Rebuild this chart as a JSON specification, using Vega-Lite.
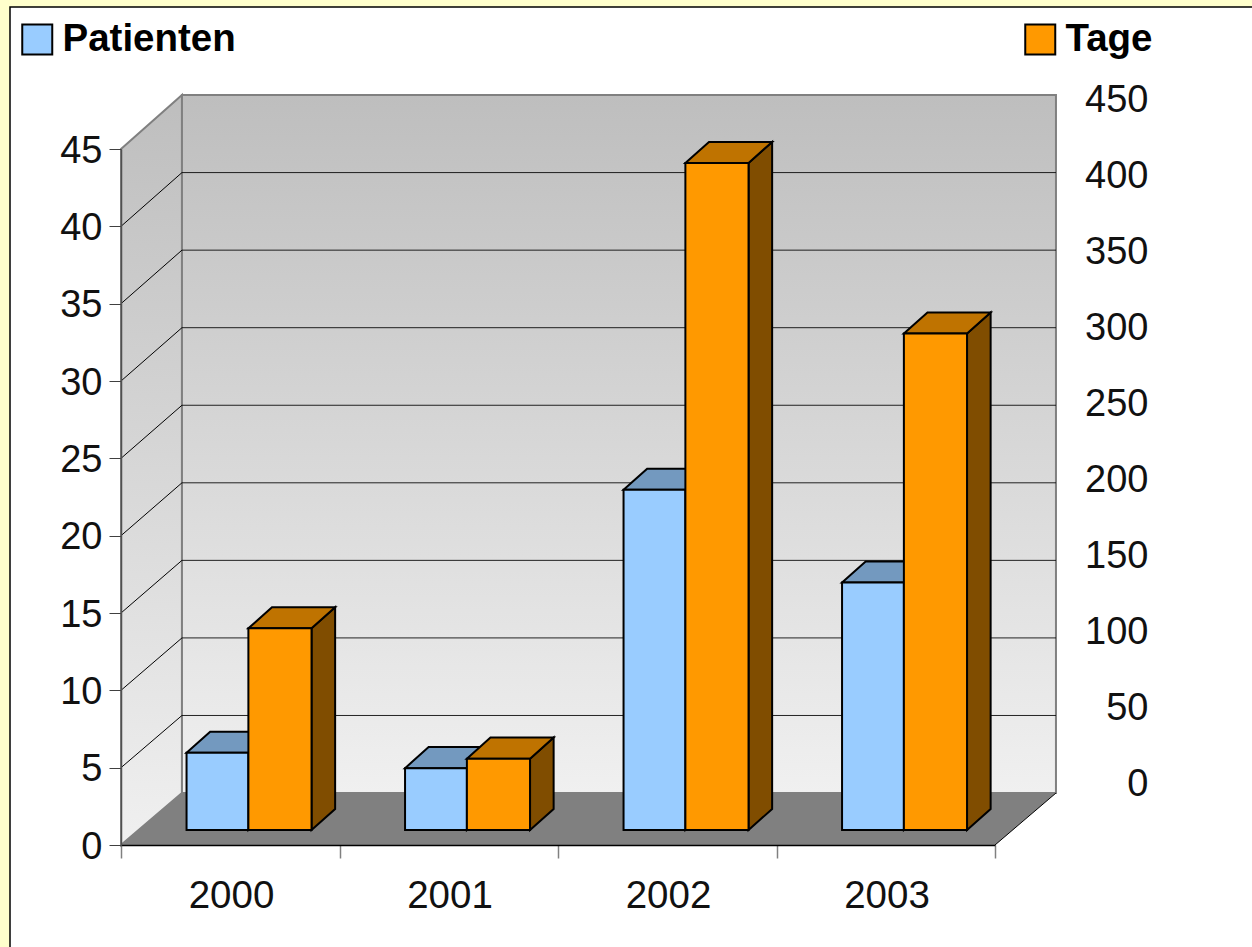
{
  "$schema": "https://vega.github.io/schema/vega-lite/v6.json",
  "description": "Patienten und Tage je Jahr, als Säulen mit räumlicher Tiefe",
  "autosize": {"type": "none"},
  "width": 874,
  "height": 696,
  "padding": {"left": 121, "top": 149, "right": 257, "bottom": 102},
  "background": "#ffffcc",
  "config": {"font": "Liberation Sans", "view": {"stroke": null}},
  "datasets": {
    "balken": [
      {"jahr": 2000, "serie": "Patienten", "wert": 5},
      {"jahr": 2000, "serie": "Tage", "wert": 130},
      {"jahr": 2001, "serie": "Patienten", "wert": 4},
      {"jahr": 2001, "serie": "Tage", "wert": 46},
      {"jahr": 2002, "serie": "Patienten", "wert": 22},
      {"jahr": 2002, "serie": "Tage", "wert": 430},
      {"jahr": 2003, "serie": "Patienten", "wert": 16},
      {"jahr": 2003, "serie": "Tage", "wert": 320}
    ],
    "raster": [
      {"v": 0}, {"v": 5}, {"v": 10}, {"v": 15}, {"v": 20},
      {"v": 25}, {"v": 30}, {"v": 35}, {"v": 40}, {"v": 45}
    ],
    "tiefe": [{"t": 0}, {"t": 1}],
    "eins": [{"n": 1}]
  },
  "resolve": {"scale": {"y": "independent"}, "axis": {"y": "independent"}},
  "layer": [
    {
      "layer": [
        {
          "description": "weisse Zeichenfläche mit schwarzem Rand",
          "data": {"name": "eins"},
          "mark": {"type": "rect", "fill": "#ffffff", "stroke": "#000000", "strokeWidth": 1.5},
          "encoding": {
            "x": {
              "datum": -0.508,
              "type": "quantitative",
              "scale": {"domain": [0, 4], "nice": false, "zero": false},
              "axis": {
                "values": [0, 1, 2, 3, 4],
                "title": null,
                "grid": false,
                "zindex": 1,
                "labelExpr": "datum.value < 4 ? 2000 + datum.value : ''",
                "labelOffset": 110,
                "labelFontSize": 38.5,
                "labelColor": "#111111",
                "labelPadding": 19,
                "labelFlush": false,
                "labelOverlap": false,
                "labelBound": false,
                "tickSize": 13,
                "tickColor": "#808080",
                "tickWidth": 1.5,
                "domainColor": "#000000",
                "domainWidth": 1.5
              }
            },
            "x2": {"datum": 5.5},
            "y": {
              "datum": 54.18,
              "type": "quantitative",
              "scale": {"domain": [0, 45], "nice": false, "zero": false},
              "axis": {
                "values": [0, 5, 10, 15, 20, 25, 30, 35, 40, 45],
                "title": null,
                "grid": false,
                "zindex": 1,
                "labelFontSize": 38,
                "labelColor": "#111111",
                "labelPadding": 7,
                "labelOffset": 2,
                "labelFlush": false,
                "labelOverlap": false,
                "labelBound": false,
                "tickSize": 12,
                "tickColor": "#404040",
                "tickWidth": 1,
                "domainColor": "#505050",
                "domainWidth": 1.5
              }
            },
            "y2": {"datum": -10}
          }
        },
        {
          "description": "linke Seitenwand",
          "data": {"name": "tiefe"},
          "transform": [
            {"calculate": "datum.t * 0.279", "as": "x"},
            {"calculate": "datum.t * 3.36", "as": "yu"},
            {"calculate": "45 + datum.t * 3.49", "as": "yo"}
          ],
          "mark": {
            "type": "area",
            "orient": "vertical",
            "stroke": "#808080",
            "strokeWidth": 2,
            "fill": {
              "gradient": "linear", "x1": 0, "y1": 0, "x2": 0, "y2": 1,
              "stops": [{"offset": 0, "color": "#bebebe"}, {"offset": 1, "color": "#f0f0f0"}]
            }
          },
          "encoding": {
            "x": {"field": "x", "type": "quantitative"},
            "y": {"field": "yo", "type": "quantitative"},
            "y2": {"field": "yu"}
          }
        },
        {
          "description": "Rückwand",
          "data": {"name": "eins"},
          "mark": {
            "type": "rect",
            "stroke": "#808080",
            "strokeWidth": 2,
            "fill": {
              "gradient": "linear", "x1": 0, "y1": 0, "x2": 0, "y2": 1,
              "stops": [{"offset": 0, "color": "#bebebe"}, {"offset": 1, "color": "#f0f0f0"}]
            }
          },
          "encoding": {
            "x": {"datum": 0.279, "type": "quantitative"},
            "x2": {"datum": 4.279},
            "y": {"datum": 48.49, "type": "quantitative"},
            "y2": {"datum": 3.36}
          }
        },
        {
          "description": "Gitterlinien auf der Rückwand",
          "data": {"name": "raster"},
          "transform": [
            {"filter": "datum.v > 0 && datum.v < 45"},
            {"calculate": "datum.v * 1.00287 + 3.36", "as": "yh"}
          ],
          "mark": {"type": "rule", "stroke": "#000000", "strokeWidth": 1, "strokeOpacity": 0.85},
          "encoding": {
            "x": {"datum": 0.279, "type": "quantitative"},
            "x2": {"datum": 4.279},
            "y": {"field": "yh", "type": "quantitative"}
          }
        },
        {
          "description": "Gitterlinien auf der Seitenwand",
          "data": {"name": "raster"},
          "transform": [
            {"filter": "datum.v > 0 && datum.v < 45"},
            {"calculate": "datum.v * 1.00287 + 3.36", "as": "yh"}
          ],
          "mark": {"type": "rule", "stroke": "#000000", "strokeWidth": 1},
          "encoding": {
            "x": {"datum": 0, "type": "quantitative"},
            "x2": {"datum": 0.279},
            "y": {"field": "v", "type": "quantitative"},
            "y2": {"field": "yh"}
          }
        },
        {
          "description": "Boden",
          "data": {"name": "tiefe"},
          "transform": [
            {"calculate": "datum.t * 0.279", "as": "xl"},
            {"calculate": "4 + datum.t * 0.279", "as": "xr"},
            {"calculate": "datum.t * 3.36", "as": "yb"}
          ],
          "mark": {"type": "area", "orient": "horizontal", "fill": "#808080"},
          "encoding": {
            "y": {"field": "yb", "type": "quantitative"},
            "x": {"field": "xl", "type": "quantitative"},
            "x2": {"field": "xr"}
          }
        },
        {
          "description": "vordere rechte Bodenkante",
          "data": {"name": "eins"},
          "mark": {"type": "rule", "stroke": "#000000", "strokeWidth": 1},
          "encoding": {
            "x": {"datum": 4, "type": "quantitative"},
            "x2": {"datum": 4.279},
            "y": {"datum": 0, "type": "quantitative"},
            "y2": {"datum": 3.36}
          }
        },
        {
          "description": "die Säulen: Seitenflächen, Deckel, Vorderseiten",
          "data": {"name": "balken"},
          "transform": [
            {"calculate": "datum.jahr - 2000 + (datum.serie == 'Tage' ? 0.583 : 0.3)", "as": "links"},
            {"calculate": "datum.jahr - 2000 + (datum.serie == 'Tage' ? 0.872 : 0.583)", "as": "rechts"},
            {"calculate": "0.97", "as": "fuss"},
            {"calculate": "0.97 + (datum.serie == 'Tage' ? datum.wert / 9.97 : datum.wert)", "as": "kopf"}
          ],
          "layer": [
            {
              "description": "Seitenflächen",
              "transform": [
                {"calculate": "[0, 1]", "as": "t"},
                {"flatten": ["t"]},
                {"calculate": "datum.rechts + datum.t * 0.108", "as": "sx"},
                {"calculate": "datum.kopf + datum.t * 1.36", "as": "so"},
                {"calculate": "datum.fuss + datum.t * 1.36", "as": "su"}
              ],
              "mark": {"type": "area", "orient": "vertical", "stroke": "#000000", "strokeWidth": 2},
              "encoding": {
                "x": {"field": "sx", "type": "quantitative"},
                "y": {"field": "so", "type": "quantitative"},
                "y2": {"field": "su"},
                "detail": [{"field": "jahr"}, {"field": "serie"}],
                "fill": {
                  "condition": {"test": "datum.serie == 'Tage'", "value": "#804d00"},
                  "value": "#4d6680"
                }
              }
            },
            {
              "description": "Deckel",
              "transform": [
                {"calculate": "[0, 1]", "as": "t"},
                {"flatten": ["t"]},
                {"calculate": "datum.links + datum.t * 0.108", "as": "dl"},
                {"calculate": "datum.rechts + datum.t * 0.108", "as": "dr"},
                {"calculate": "datum.kopf + datum.t * 1.36", "as": "dy"}
              ],
              "mark": {"type": "area", "orient": "horizontal", "stroke": "#000000", "strokeWidth": 2},
              "encoding": {
                "y": {"field": "dy", "type": "quantitative"},
                "x": {"field": "dl", "type": "quantitative"},
                "x2": {"field": "dr"},
                "detail": [{"field": "jahr"}, {"field": "serie"}],
                "fill": {
                  "condition": {"test": "datum.serie == 'Tage'", "value": "#bf7300"},
                  "value": "#7399bf"
                }
              }
            },
            {
              "description": "Vorderseiten",
              "mark": {"type": "rect", "stroke": "#000000", "strokeWidth": 2},
              "encoding": {
                "x": {"field": "links", "type": "quantitative"},
                "x2": {"field": "rechts"},
                "y": {"field": "kopf", "type": "quantitative"},
                "y2": {"field": "fuss"},
                "color": {
                  "field": "serie",
                  "type": "nominal",
                  "scale": {"domain": ["Patienten", "Tage"], "range": ["#99ccff", "#ff9900"]},
                  "legend": {
                    "title": null,
                    "orient": "none",
                    "legendX": -103,
                    "legendY": -129,
                    "columns": 2,
                    "columnPadding": 785,
                    "symbolType": "square",
                    "symbolSize": 900,
                    "symbolStrokeColor": "#000000",
                    "symbolStrokeWidth": 2,
                    "labelFontSize": 38.5,
                    "labelFontWeight": "bold",
                    "labelColor": "#000000",
                    "labelOffset": 6,
                    "labelLimit": 400,
                    "padding": 0
                  }
                }
              }
            }
          ]
        }
      ]
    },
    {
      "description": "Skala der Tage rechts neben der Rückwand",
      "data": {"name": "eins"},
      "mark": {"type": "rule", "opacity": 0},
      "encoding": {
        "y": {
          "datum": 0,
          "type": "quantitative",
          "scale": {"domain": [0, 450], "range": [635, -49], "nice": false, "zero": false},
          "axis": {
            "orient": "right",
            "values": [0, 50, 100, 150, 200, 250, 300, 350, 400, 450],
            "title": null,
            "grid": false,
            "domain": false,
            "ticks": false,
            "zindex": 1,
            "labelExpr": "datum.value == 0 ? '0\u00a0' : datum.label",
            "labelAlign": "right",
            "labelPadding": 153,
            "labelFontSize": 38,
            "labelColor": "#111111",
            "labelFlush": false,
            "labelOverlap": false,
            "labelBound": false
          }
        }
      }
    }
  ]
}
